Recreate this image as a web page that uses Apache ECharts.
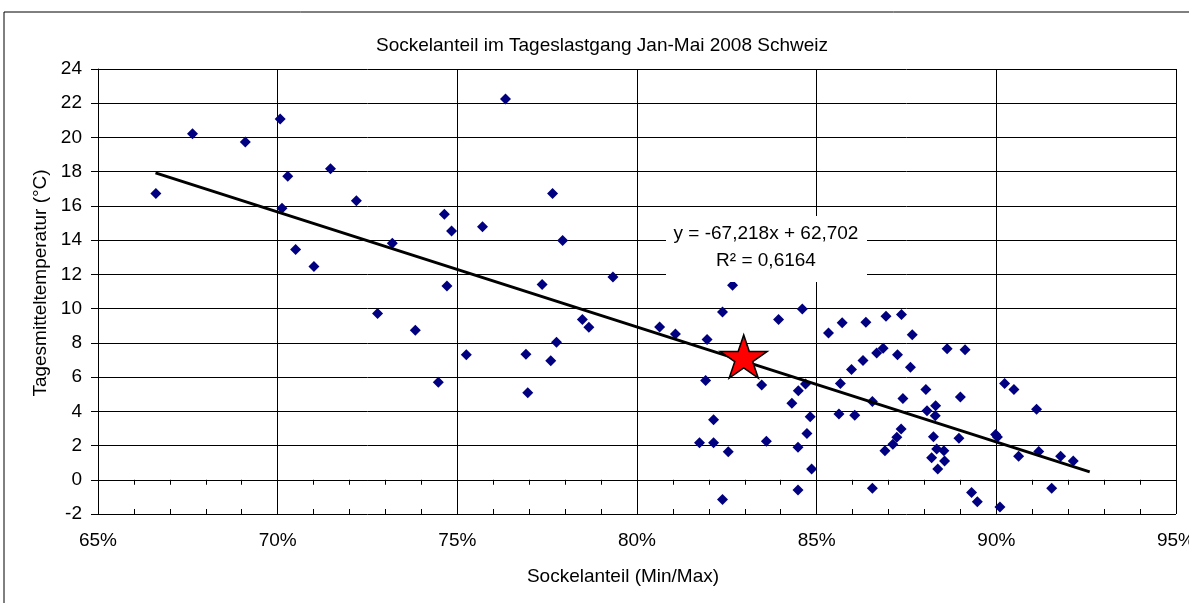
<!DOCTYPE html>
<html>
<head>
<meta charset="utf-8">
<script src="https://cdn.jsdelivr.net/npm/echarts@6/dist/echarts.min.js"></script>
<style>
  html, body { margin: 0; padding: 0; background: #fff; }
  #chart { width: 1189px; height: 603px; }
</style>
</head>
<body>
<div id="chart"></div>
<script>
// Sockelanteil (Min/Max) in %, Tagesmitteltemperatur in °C
var sockel = [
  66.61, 67.63, 69.10, 70.07, 70.28, 70.12, 71.47, 70.50, 71.01, 72.19,
  73.19, 74.64, 74.84, 74.71, 72.78, 73.83, 74.47, 75.25, 76.34, 77.65,
  75.70, 77.93, 79.33, 77.36, 82.66, 78.48, 78.66, 77.76, 76.91, 77.60,
  76.96, 80.63, 81.07, 82.38, 81.95, 83.94, 84.60, 81.91, 83.47, 84.31,
  84.49, 84.69, 84.82, 84.73, 84.48, 84.86, 84.48, 82.13, 81.74, 82.13,
  82.54, 83.60, 82.38, 85.33, 85.71, 86.37, 86.93, 85.66, 85.97, 86.29,
  86.67, 86.85, 85.62, 86.06, 86.55, 86.55, 86.90, 87.12, 87.25, 87.36,
  87.66, 87.61, 88.63, 89.13, 87.40, 88.04, 89.00, 88.07, 88.31, 88.30,
  87.35, 87.23, 88.25, 88.96, 88.34, 88.54, 88.20, 88.56, 88.37, 89.31,
  89.47, 90.10, 89.98, 90.03, 90.23, 90.49, 91.12, 90.62, 91.18, 91.79,
  92.14, 91.54, 92.60
];
var temp = [
  16.73, 20.21, 19.74, 21.08, 17.73, 15.87, 18.17, 13.45, 12.46, 16.30,
  13.82, 15.52, 14.53, 11.32, 9.71, 8.73, 5.70, 7.31, 22.24, 16.73,
  14.78, 13.98, 11.85, 11.41, 11.37, 9.36, 8.91, 8.03, 7.33, 6.96,
  5.08, 8.92, 8.51, 9.80, 8.20, 9.36, 9.98, 5.80, 5.53, 4.47,
  5.20, 5.59, 3.68, 2.70, 1.90, 0.63, -0.60, 3.50, 2.16, 2.16,
  1.63, 2.25, -1.15, 8.57, 9.18, 9.20, 9.55, 5.63, 6.45, 6.97,
  7.40, 7.68, 3.85, 3.77, 4.57, -0.50, 1.70, 2.08, 7.31, 9.65,
  8.48, 6.58, 7.66, 7.60, 4.75, 5.28, 4.83, 4.03, 4.32, 3.74,
  2.97, 2.48, 2.52, 2.43, 1.80, 1.70, 1.28, 1.10, 0.63, -0.75,
  -1.28, -1.59, 2.65, 2.50, 5.63, 5.28, 4.12, 1.37, 1.65, 1.37,
  1.10, -0.50, -2.02
];

// linear trend (endpoints of the drawn line)
var trendX = [66.6, 92.6];
var trendY = [17.93, 0.46];

// red star marker
var starX = [82.97];
var starY = [7.2];

var trendLabel = ['y = -67,218x + 62,702', 'R² = 0,6164'];

var pts = sockel.map(function (v, i) { return [v, temp[i]]; });
var trendData = trendX.map(function (v, i) { return [v, trendY[i]]; });
var starData = starX.map(function (v, i) { return [v, starY[i]]; });

var FONT = 'Liberation Sans, Arial, sans-serif';
var STAR = 'path://M0,-1L0.2245,-0.309L0.951,-0.309L0.363,0.118L0.588,0.809L0,0.382L-0.588,0.809L-0.363,0.118L-0.951,-0.309L-0.2245,-0.309Z';

var chart = echarts.init(document.getElementById('chart'));

var option = {
  animation: false,
  backgroundColor: '#fff',
  textStyle: { fontFamily: FONT },
  title: {
    text: 'Sockelanteil im Tageslastgang Jan-Mai 2008 Schweiz',
    left: 597,
    top: 31,
    textAlign: 'center',
    textStyle: { fontFamily: FONT, fontSize: 19, fontWeight: 'normal', color: '#000' }
  },
  grid: { left: 98, right: 13, top: 69, bottom: 89, outerBoundsMode: 'none' },
  xAxis: [{
    type: 'value',
    min: 65, max: 95, interval: 5,
    name: 'Sockelanteil (Min/Max)',
    nameLocation: 'middle',
    nameGap: 53,
    nameTextStyle: { fontFamily: FONT, fontSize: 19, color: '#000', padding: [0, 28, 0, 0] },
    axisLine: { lineStyle: { color: '#000', width: 1 } },
    axisTick: { show: true, length: 6, lineStyle: { color: '#000' } },
    minorTick: { show: true, splitNumber: 5, length: 5, lineStyle: { color: '#000' } },
    axisLabel: { formatter: '{value}%', fontFamily: FONT, fontSize: 19, color: '#000', margin: 17 },
    splitLine: { show: true, lineStyle: { color: '#000', width: 1 } }
  }, {
    // second copy of the axis only for the inner half of the crossing ticks
    type: 'value',
    min: 65, max: 95, interval: 5,
    position: 'bottom',
    axisLine: { show: false },
    axisTick: { show: true, inside: true, length: 6, lineStyle: { color: '#000' } },
    minorTick: { show: true, splitNumber: 5, length: 5, lineStyle: { color: '#000' } },
    axisLabel: { show: false },
    splitLine: { show: false }
  }],
  yAxis: {
    type: 'value',
    min: -2, max: 24, interval: 2,
    name: 'Tagesmitteltemperatur (°C)',
    nameLocation: 'middle',
    nameGap: 47,
    nameTextStyle: { fontFamily: FONT, fontSize: 19, color: '#000', padding: [0, 0, 0, 17] },
    axisLine: { show: true, lineStyle: { color: '#000', width: 1 } },
    axisTick: { show: true, length: 7, lineStyle: { color: '#000' } },
    axisLabel: { fontFamily: FONT, fontSize: 19, color: '#000', margin: 16 },
    splitLine: { show: true, lineStyle: { color: '#000', width: 1 } }
  },
  series: [{
    name: 'Tage',
    type: 'scatter',
    symbol: 'diamond',
    symbolSize: 11,
    itemStyle: { color: '#000080', opacity: 1 },
    data: pts,
    z: 2
  }, {
    name: 'Trend',
    type: 'line',
    data: trendData,
    symbol: 'none',
    lineStyle: { color: '#000', width: 3 },
    z: 3
  }, {
    name: 'Stern',
    type: 'scatter',
    symbol: STAR,
    symbolSize: [47, 43],
    itemStyle: { color: '#ff0000', borderColor: '#000', borderWidth: 1.5, opacity: 1 },
    data: starData,
    z: 4
  }],
  graphic: [{
    // outer chart frame
    type: 'rect',
    shape: { x: 4, y: 12, width: 1200, height: 620 },
    style: { fill: 'none', stroke: '#000', lineWidth: 1 },
    silent: true
  }, {
    // regression label box
    type: 'rect',
    shape: { x: 666, y: 216, width: 201, height: 66 },
    style: { fill: '#fff', stroke: 'none' },
    z: 100
  }, {
    type: 'text',
    x: 766, y: 234,
    style: { text: trendLabel[0], fontFamily: FONT, fontSize: 19, fill: '#000', align: 'center', verticalAlign: 'middle' },
    z: 101
  }, {
    type: 'text',
    x: 766, y: 261,
    style: { text: trendLabel[1], fontFamily: FONT, fontSize: 19, fill: '#000', align: 'center', verticalAlign: 'middle' },
    z: 101
  }]
};

chart.setOption(option);
</script>
</body>
</html>
